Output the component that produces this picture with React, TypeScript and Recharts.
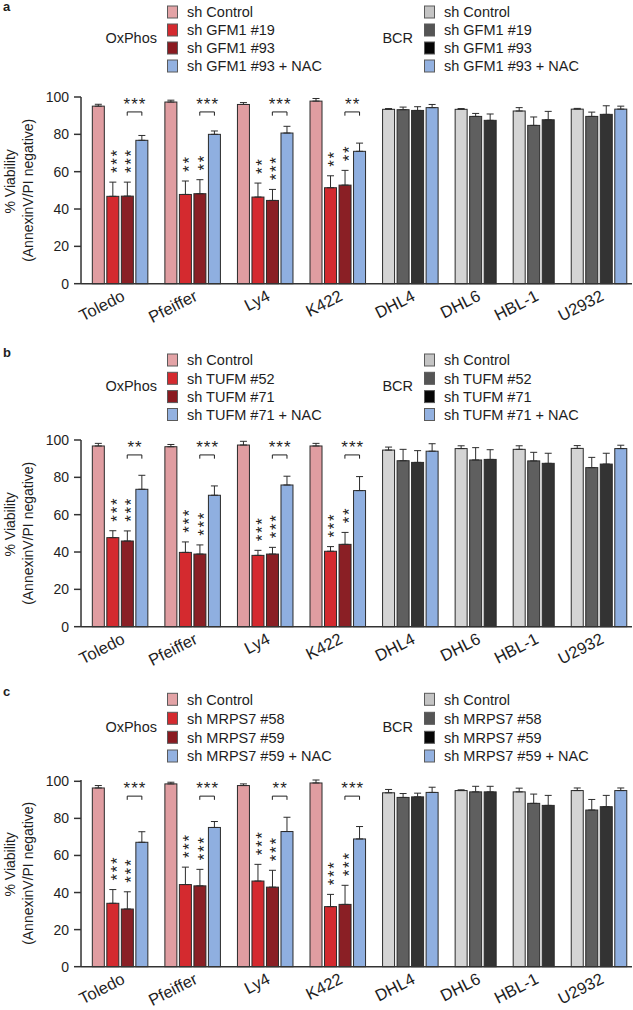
import React from 'react';
import { BarChart, Bar, XAxis, YAxis, ErrorBar } from 'recharts';

// ---------- shared categories / labels ----------
const cellLines = ['Toledo', 'Pfeiffer', 'Ly4', 'K422', 'DHL4', 'DHL6', 'HBL-1', 'U2932'];
const oxphosCount = 4;
const yTicks = [0, 20, 40, 60, 80, 100];
const yLabelLines = ['% Viability', '(AnnexinV/PI negative)'];
const groupNames = ['OxPhos', 'BCR'];

// ---------- panel a: GFM1 ----------
const gfm1Series = ['sh Control', 'sh GFM1 #19', 'sh GFM1 #93', 'sh GFM1 #93 + NAC'];
const gfm1Control = [95.1, 97.3, 96.0, 97.8, 93.4, 93.4, 92.5, 93.5];
const gfm1ControlErr = [1.0, 1.0, 1.0, 1.4, 0.4, 0.4, 1.8, 0.4];
const gfm1Kd19 = [46.8, 47.8, 46.4, 51.4, 93.2, 89.6, 84.8, 89.6];
const gfm1Kd19Err = [7.6, 7.2, 7.5, 6.4, 1.4, 1.6, 4.5, 2.3];
const gfm1Kd93 = [46.9, 48.2, 44.6, 52.8, 92.8, 87.5, 87.8, 90.7];
const gfm1Kd93Err = [7.5, 7.5, 5.9, 7.9, 2.0, 3.4, 4.5, 4.6];
const gfm1Nac = [76.8, 80.0, 80.7, 70.9, 94.3, null, null, 93.5];
const gfm1NacErr = [2.6, 1.8, 3.6, 4.4, 1.7, null, null, 1.6];
const gfm1Sig19 = ['***', '**', '**', '**'];
const gfm1Sig93 = ['***', '**', '***', '**'];
const gfm1SigNac = ['***', '***', '***', '**'];

// ---------- panel b: TUFM ----------
const tufmSeries = ['sh Control', 'sh TUFM #52', 'sh TUFM #71', 'sh TUFM #71 + NAC'];
const tufmControl = [96.8, 96.4, 97.3, 96.8, 94.6, 95.4, 95.0, 95.5];
const tufmControlErr = [1.4, 1.2, 2.0, 1.4, 1.6, 1.5, 1.9, 1.5];
const tufmKd52 = [47.7, 39.8, 38.2, 40.4, 88.9, 89.3, 88.8, 85.2];
const tufmKd52Err = [3.7, 5.6, 2.7, 2.5, 6.1, 6.6, 4.6, 5.5];
const tufmKd71 = [45.9, 38.9, 38.9, 44.1, 88.0, 89.6, 87.5, 87.1];
const tufmKd71Err = [5.4, 4.9, 3.6, 6.4, 6.3, 5.2, 5.4, 5.8];
const tufmNac = [73.6, 70.4, 75.9, 72.9, 94.0, null, null, 95.4];
const tufmNacErr = [7.5, 5.0, 4.7, 7.5, 4.0, null, null, 1.8];
const tufmSig52 = ['***', '***', '***', '***'];
const tufmSig71 = ['***', '***', '***', '**'];
const tufmSigNac = ['**', '***', '***', '***'];

// ---------- panel c: MRPS7 ----------
const mrpsSeries = ['sh Control', 'sh MRPS7 #58', 'sh MRPS7 #59', 'sh MRPS7 #59 + NAC'];
const mrpsControl = [96.4, 98.6, 97.7, 99.1, 93.8, 95.0, 94.3, 95.0];
const mrpsControlErr = [1.3, 0.9, 0.9, 1.6, 1.8, 0.4, 2.0, 1.4];
const mrpsKd58 = [34.2, 44.3, 46.2, 32.4, 91.3, 94.3, 88.1, 84.5];
const mrpsKd58Err = [7.4, 9.4, 9.0, 6.6, 2.1, 3.0, 5.0, 5.7];
const mrpsKd59 = [31.1, 43.6, 42.9, 33.6, 91.6, 94.3, 87.0, 86.3];
const mrpsKd59Err = [9.3, 8.9, 9.1, 10.3, 2.0, 3.0, 5.4, 6.1];
const mrpsNac = [67.1, 75.1, 72.9, 68.9, 94.0, null, null, 95.0];
const mrpsNacErr = [5.7, 3.2, 7.7, 6.7, 2.8, null, null, 1.4];
const mrpsSig58 = ['***', '***', '***', '***'];
const mrpsSig59 = ['***', '***', '***', '***'];
const mrpsSigNac = ['***', '***', '**', '***'];

// ---------- styles ----------
const oxphosColors = ['#e09da1', '#d42a2f', '#8a1f25', '#8fafe0'];
const bcrColors = ['#d4d4d4', '#5f5f5f', '#333333', '#8fafe0'];
const oxphosLegendColors = ['#e3a3a6', '#d42a2f', '#8a1a20', '#93b1e0'];
const bcrLegendColors = ['#c4c4c4', '#555555', '#050505', '#93b1e0'];
const FONT = '"Liberation Sans", Arial, Helvetica, sans-serif';
const TEXT = '#1e1e1e';
const AXIS = '#333333';
const CHART_W = 633;
const Y_AXIS_W = 81;
const PLOT_H = 186.7;
const TOP_M = 20;
const X_AXIS_H = 50;
const GAP_FRAC = 0.09;
const RIGHT_M = 1;
const PAD_L = 10;
const PAD_R = 4;
const STAR_FS = 17;
const STAR_ADV = 0.389 * STAR_FS;
const STAR_STEP = 8.3;

type Row = {
  key: string; line: string; s: number; n: number;
  v: number | null; e: [number, number] | null; err: number;
  color: string; sig: string; bracket: string;
};

function buildRows(values: (number | null)[][], errs: (number | null)[][], sig1: string[], sig2: string[], sigNac: string[]): Row[] {
  const rows: Row[] = [];
  cellLines.forEach((line, i) => {
    if (i > 0) rows.push({ key: `gap-${i}`, line: '', s: -1, n: 0, v: null, e: null, err: 0, color: 'none', sig: '', bracket: '' });
    const present = values.map((_, s) => s).filter((s) => values[s][i] != null);
    const palette = i < oxphosCount ? oxphosColors : bcrColors;
    present.forEach((s) => {
      const err = (errs[s][i] ?? 0) as number;
      rows.push({
        key: `${line}-${s}`, line, s, n: present.length,
        v: values[s][i], e: [0, err], err,
        color: palette[s],
        sig: s === 1 ? (sig1[i] ?? '') : s === 2 ? (sig2[i] ?? '') : '',
        bracket: s === 3 ? (sigNac[i] ?? '') : '',
      });
    });
  });
  return rows;
}

const BarShape = (props: any) => {
  const { x, y, width, height, payload } = props;
  if (!payload || payload.v == null || !isFinite(y) || !isFinite(height)) return <g />;
  const ppu = height / payload.v;
  const base = y + height;
  const cx = x + width / 2;
  const out: React.ReactNode[] = [
    <rect key="r" x={x} y={y} width={width} height={height} fill={payload.color} stroke="#2b2b2b" strokeWidth={1} />,
  ];
  if (payload.sig) {
    // stacked stars, read bottom-to-top as one rotated string
    const errTop = y - payload.err * ppu;
    const sx = cx + 0.58 * STAR_FS;
    const sy = errTop - 12.4 + STAR_ADV / 2;
    out.push(
      <text key="s" x={sx} y={sy} fontSize={STAR_FS} fontFamily={FONT} fill={TEXT}
        letterSpacing={STAR_STEP - STAR_ADV} transform={`rotate(-90 ${sx} ${sy})`}>{payload.sig}</text>
    );
  }
  if (payload.bracket) {
    const leftCx = cx - width / (1 - 2 * GAP_FRAC);
    const yTop = base - 92 * ppu;
    const yLow = base - 90 * ppu;
    const starC = base - 98.3 * ppu;
    out.push(
      <path key="b" d={`M${leftCx},${yLow}V${yTop}H${cx}V${yLow}`} fill="none" stroke={TEXT} strokeWidth={1} />,
      <text key="bt" x={(leftCx + cx) / 2 + 0.5} y={starC + STAR_FS * 0.58} textAnchor="middle" fontSize={STAR_FS} letterSpacing={1} fontFamily={FONT} fill={TEXT}>{payload.bracket}</text>
    );
  }
  return <g>{out}</g>;
};

const makeTick = (rows: Row[]) => (props: any) => {
  const { x, y, payload } = props;
  const row = rows.find((r) => r.key === payload.value);
  if (!row || row.s !== 1) return <g />;
  const fallbackHalf = (CHART_W - Y_AXIS_W - RIGHT_M - PAD_L - PAD_R) / rows.length / 2;
  const half = typeof payload.offset === 'number' && payload.offset > 0 ? payload.offset : fallbackHalf;
  const cx = row.n === 4 ? x + half : x;
  const ax = cx + 6;
  const ay = y + 16;
  return (
    <text x={ax} y={ay} textAnchor="end" fontSize={16.5} fontFamily={FONT} fill={TEXT} transform={`rotate(-27 ${ax} ${ay})`}>
      {row.line}
    </text>
  );
};

const YLabel = (props: any) => {
  const vb = props.viewBox || {};
  const cy = (vb.y ?? TOP_M) + (vb.height ?? PLOT_H) / 2;
  return (
    <g fontFamily={FONT} fontSize={14} fill={TEXT}>
      <text transform={`translate(15 ${cy - 9}) rotate(-90)`} textAnchor="middle">{yLabelLines[0]}</text>
      <text transform={`translate(33 ${cy}) rotate(-90)`} textAnchor="middle">{yLabelLines[1]}</text>
    </g>
  );
};

type PanelProps = {
  letter: string; series: string[]; rows: Row[];
  letterY: number; rowY: number[]; y100: number;
};

const Legend = ({ letter, series, letterY, rowY }: PanelProps) => {
  const mid = (rowY[1] + rowY[2]) / 2 - 1;
  const top = letterY - 14;
  const block = (labelEnd: number, swX: number, txtX: number, colors: string[], name: string) => (
    <g>
      <text x={labelEnd} y={mid + 5} textAnchor="end" fontSize={14.5}>{name}</text>
      {series.map((s, i) => (
        <g key={s}>
          <rect x={swX} y={rowY[i] - 6} width={10} height={12} fill={colors[i]} stroke="#5a5a5a" strokeWidth={1} />
          <text x={txtX} y={rowY[i] + 5.2} fontSize={14.5}>{s}</text>
        </g>
      ))}
    </g>
  );
  return (
    <svg width={CHART_W} height={90} style={{ position: 'absolute', left: 0, top, overflow: 'visible' }}>
      <g transform={`translate(0 ${-top})`} fontFamily={FONT} fill={TEXT}>
        <text x={3} y={letterY} fontSize={13} fontWeight="bold">{letter}</text>
        {block(157, 167.5, 187, oxphosLegendColors, groupNames[0])}
        {block(413, 424.5, 444, bcrLegendColors, groupNames[1])}
      </g>
    </svg>
  );
};

const Panel = (p: PanelProps) => {
  const chartTop = p.y100 - TOP_M;
  return (
    <>
      <Legend {...p} />
      <div style={{ position: 'absolute', left: 0, top: chartTop }}>
        <BarChart
          width={CHART_W}
          height={TOP_M + PLOT_H + X_AXIS_H}
          data={p.rows}
          margin={{ top: TOP_M, right: RIGHT_M, bottom: 0, left: 0 }}
          barCategoryGap={`${GAP_FRAC * 100}%`}
          style={{ overflow: 'visible' }}
        >
          <XAxis
            dataKey="key"
            type="category"
            interval={0}
            height={X_AXIS_H}
            tickLine={false}
            tickSize={0}
            tickMargin={0}
            axisLine={{ stroke: AXIS, strokeWidth: 1.5 }}
            padding={{ left: PAD_L, right: PAD_R }}
            tick={makeTick(p.rows)}
          />
          <YAxis
            width={Y_AXIS_W}
            domain={[0, 100]}
            ticks={yTicks}
            interval={0}
            tickSize={7}
            tickMargin={5}
            axisLine={{ stroke: AXIS, strokeWidth: 1.5 }}
            tickLine={{ stroke: AXIS, strokeWidth: 1.5 }}
            tick={{ fontSize: 14, fill: TEXT, fontFamily: FONT }}
            label={{ content: YLabel }}
          />
          <Bar dataKey="v" isAnimationActive={false} shape={BarShape}>
            <ErrorBar dataKey="e" width={3.5} stroke="#2b2b2b" strokeWidth={1} direction="y" isAnimationActive={false} />
          </Bar>
        </BarChart>
      </div>
    </>
  );
};

const rowsA = buildRows(
  [gfm1Control, gfm1Kd19, gfm1Kd93, gfm1Nac],
  [gfm1ControlErr, gfm1Kd19Err, gfm1Kd93Err, gfm1NacErr],
  gfm1Sig19, gfm1Sig93, gfm1SigNac
);
const rowsB = buildRows(
  [tufmControl, tufmKd52, tufmKd71, tufmNac],
  [tufmControlErr, tufmKd52Err, tufmKd71Err, tufmNacErr],
  tufmSig52, tufmSig71, tufmSigNac
);
const rowsC = buildRows(
  [mrpsControl, mrpsKd58, mrpsKd59, mrpsNac],
  [mrpsControlErr, mrpsKd58Err, mrpsKd59Err, mrpsNacErr],
  mrpsSig58, mrpsSig59, mrpsSigNac
);

export default function App() {
  return (
    <div style={{ position: 'absolute', left: 0, top: 0, width: 633, height: 1010, background: '#fff', overflow: 'hidden', fontFamily: FONT }}>
      <Panel letter="a" series={gfm1Series} rows={rowsA} letterY={11} rowY={[12, 30, 48, 66]} y100={96.7} />
      <Panel letter="b" series={tufmSeries} rows={rowsB} letterY={357} rowY={[360, 378.3, 396.6, 414.5]} y100={440} />
      <Panel letter="c" series={mrpsSeries} rows={rowsC} letterY={696} rowY={[699.3, 718.3, 737.3, 756]} y100={780} />
    </div>
  );
}
